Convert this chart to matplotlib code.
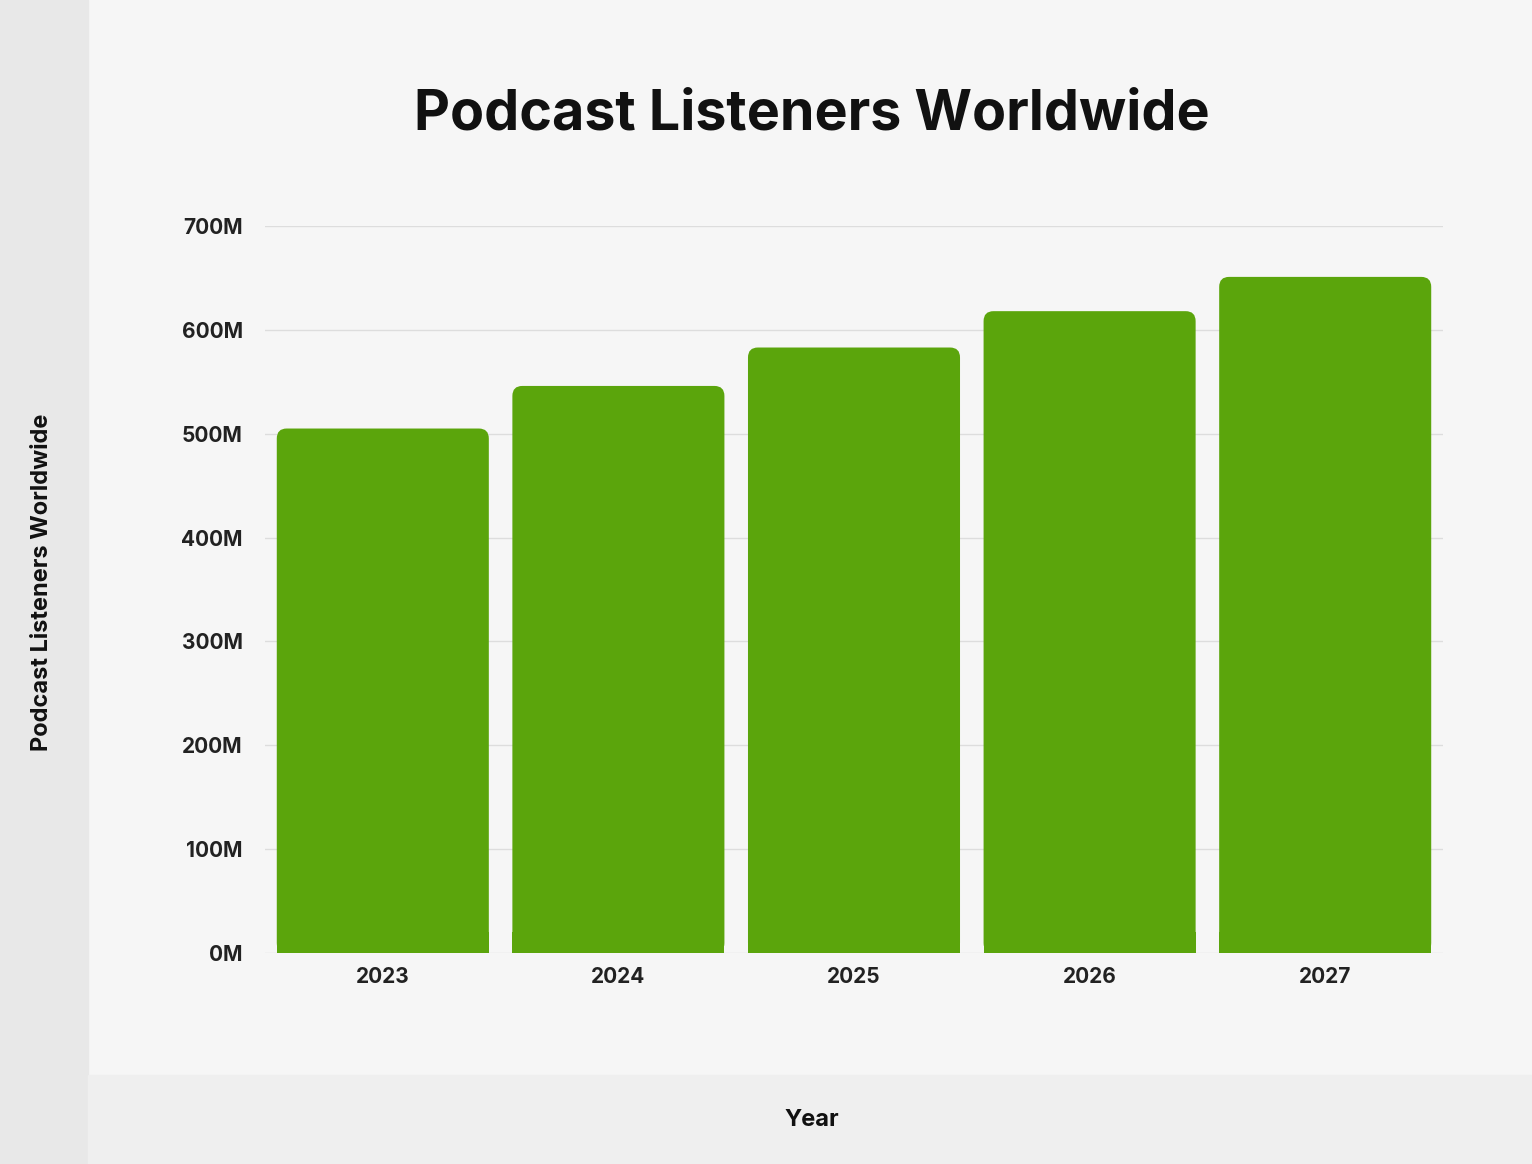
import matplotlib
matplotlib.use("Agg")
import matplotlib.pyplot as plt
from matplotlib.patches import FancyBboxPatch, Rectangle

years = ["2023", "2024", "2025", "2026", "2027"]
listeners = [505, 546, 583, 618, 651]
yticks = [0, 100, 200, 300, 400, 500, 600, 700]
ytick_labels = [f"{v}M" for v in yticks]

plt.rcParams['font.family'] = ['Inter', 'DejaVu Sans']
W, H = 1532, 1164
fig = plt.figure(figsize=(W/100, H/100), dpi=100, facecolor="#f6f6f6")
fig.patches.append(Rectangle((0, 0), 88/W, 1, transform=fig.transFigure, color="#e8e8e8", zorder=0))
fig.patches.append(Rectangle((88/W, 0), 1-88/W, 89/H, transform=fig.transFigure, color="#efefef", zorder=0))

ax = fig.add_axes([265/W, (H-953)/H, (1443-265)/W, (953-226)/H])
ax.set_facecolor("#f6f6f6")
ax.set_xlim(-0.5, 4.5)
ax.set_ylim(0, 700)
green = "#5ba50c"
bw = 0.9
rx = 0.042
ry = 9.6
for i, v in enumerate(listeners):
    p = FancyBboxPatch((i - bw/2, 0), bw, v, boxstyle=f"round,pad=0,rounding_size={rx}",
                       mutation_aspect=ry/rx, fc=green, ec="none", zorder=3)
    ax.add_patch(p)
    ax.add_patch(Rectangle((i - bw/2, 0), bw, 20, fc=green, ec="none", zorder=3))

ax.set_yticks(yticks)
ax.set_yticklabels(ytick_labels, fontsize=15, fontweight="bold", color="#222222")
ax.set_xticks(range(len(years)))
ax.set_xticklabels(years, fontsize=15, fontweight="bold", color="#222222")
ax.tick_params(length=0, pad=16)
ax.tick_params(axis="x", pad=10)
ax.grid(axis="y", color="#dddddd", linewidth=1, zorder=0)
for s in ax.spines.values():
    s.set_visible(False)

fig.text(812/W, 1-115/H, "Podcast Listeners Worldwide", ha="center", va="center",
         fontsize=40, fontweight="bold", color="#111111")
fig.text(812/W, 1-1120/H, "Year", ha="center", va="center", fontsize=17, fontweight="bold", color="#111111")
fig.text(42/W, 1-582/H, "Podcast Listeners Worldwide", ha="center", va="center", rotation=90,
         fontsize=17, fontweight="bold", color="#111111")

fig.savefig("out.png", dpi=100, facecolor=fig.get_facecolor())
